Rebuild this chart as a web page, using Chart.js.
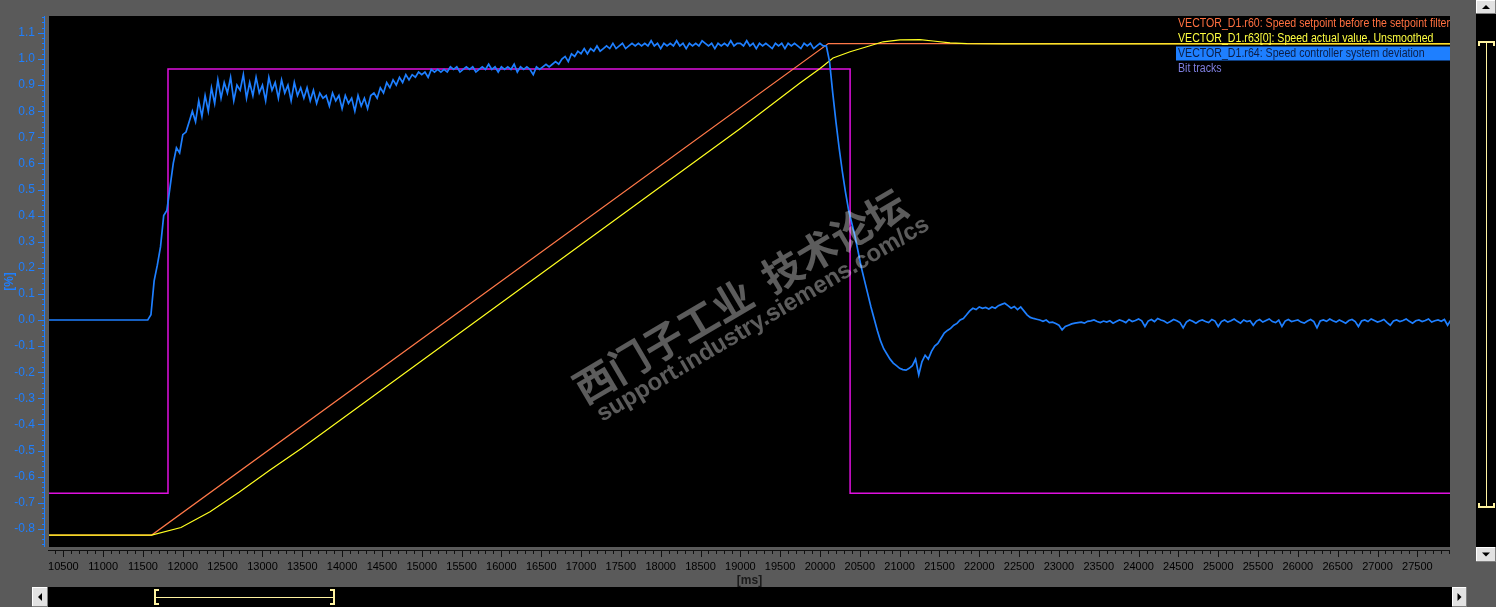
<!DOCTYPE html>
<html>
<head>
<meta charset="utf-8">
<script src="https://cdn.jsdelivr.net/npm/chart.js@4.4.0/dist/chart.umd.min.js"></script>
<style>
  html, body { margin: 0; padding: 0; background: #5a5a5a; overflow: hidden; }
  canvas { display: block; }
</style>
</head>
<body>
<canvas id="trace" width="1496" height="607"></canvas>
<script>
// visible window of the trace
const timeMin = 10320, timeMax = 27910;   // [ms]
const valueMin = -0.8697, valueMax = 1.1648;

const timeTicks = [10500, 11000, 11500, 12000, 12500, 13000, 13500, 14000, 14500, 15000, 15500, 16000,
                   16500, 17000, 17500, 18000, 18500, 19000, 19500, 20000, 20500, 21000, 21500, 22000,
                   22500, 23000, 23500, 24000, 24500, 25000, 25500, 26000, 26500, 27000, 27500];
const valueTicks = [-0.8, -0.7, -0.6, -0.5, -0.4, -0.3, -0.2, -0.1, 0.0, 0.1, 0.2, 0.3, 0.4, 0.5,
                    0.6, 0.7, 0.8, 0.9, 1.0, 1.1];

const traceNames = [
  'VECTOR_D1.r60: Speed setpoint before the setpoint filter',
  'VECTOR_D1.r63[0]: Speed actual value, Unsmoothed',
  'VECTOR_D1.r64: Speed controller system deviation',
  'Bit tracks'
];

// r60 speed setpoint (ramp)
const setpointTimes  = [10320, 11609, 20105, 27910];
const setpointValues = [-0.824, -0.824, 1.059, 1.059];

// r63[0] actual speed
const actualTimes  = [10320, 11609, 11977, 12342, 12706, 13095, 13497, 18996, 19749, 20001, 20164,
                      20378, 20587, 20792, 21005, 21256, 21420, 21633, 21846, 22300, 27910];
const actualValues = [-0.824, -0.824, -0.795, -0.735, -0.66, -0.575, -0.49, 0.733, 0.908, 0.964, 1.004,
                      1.028, 1.047, 1.066, 1.073, 1.074, 1.069, 1.062, 1.059, 1.058, 1.058];

// bit track
const bitTimes  = [10320, 11814, 20378, 27910];
const bitValues = [-0.664, 0.962, -0.664, -0.664];

// r64 system deviation, sampled every 40 ms from 10320 ms
const devStart = 10320, devStep = 40;
const devValues = [
  0,0,0,0,0,0,0,0,0,0, 0,0,0,0,0,0,0,0,0,0, 0,0,0,0,0,0,0,0,0,0, 0,0,
  0.02, 0.15, 0.21, 0.28, 0.40, 0.42, 0.51, 0.60, 0.66, 0.64,
  0.71, 0.72, 0.76, 0.80, 0.76, 0.84, 0.78, 0.86, 0.80, 0.89,
  0.83, 0.92, 0.85, 0.91, 0.87, 0.93, 0.84, 0.90, 0.88, 0.94,
  0.85, 0.91, 0.86, 0.93, 0.87, 0.90, 0.84, 0.93, 0.88, 0.91,
  0.85, 0.92, 0.87, 0.90, 0.84, 0.91, 0.86, 0.89, 0.85, 0.89,
  0.84, 0.88, 0.83, 0.87, 0.85, 0.86, 0.82, 0.87, 0.84, 0.86,
  0.81, 0.86, 0.83, 0.85, 0.80, 0.86, 0.82, 0.85, 0.81, 0.86,
  0.87, 0.85, 0.89, 0.87, 0.91, 0.89, 0.92, 0.90, 0.93, 0.91,
  0.94, 0.92, 0.94, 0.93, 0.95, 0.94, 0.95, 0.93, 0.96, 0.95,
  0.96, 0.95, 0.96, 0.95, 0.97, 0.96, 0.97, 0.95, 0.96, 0.97,
  0.96, 0.97, 0.95, 0.96, 0.97, 0.96, 0.98, 0.96, 0.97, 0.95,
  0.97, 0.96, 0.97, 0.96, 0.98, 0.95, 0.97, 0.96, 0.97, 0.96,
  0.94, 0.97, 0.96, 0.97, 0.98, 0.97, 0.98, 0.99, 0.98, 1.00,
  1.01, 0.99, 1.02, 1.01, 1.03, 1.02, 1.04, 1.02, 1.04, 1.03,
  1.05, 1.03, 1.04, 1.05, 1.04, 1.06, 1.04, 1.05, 1.06, 1.04,
  1.05, 1.06, 1.05, 1.06, 1.05, 1.06, 1.05, 1.07, 1.05, 1.06,
  1.04, 1.06, 1.05, 1.06, 1.05, 1.07, 1.05, 1.06, 1.04, 1.06,
  1.05, 1.06, 1.05, 1.07, 1.06, 1.05, 1.06, 1.04, 1.06, 1.05,
  1.06, 1.05, 1.07, 1.05, 1.06, 1.06, 1.05, 1.07, 1.05, 1.06,
  1.04, 1.06, 1.05, 1.06, 1.05, 1.04, 1.06, 1.05, 1.06, 1.04,
  1.06, 1.05, 1.06, 1.05, 1.04, 1.06, 1.05, 1.06, 1.04, 1.05,
  1.06, 1.05, 1.05, 0.99, 0.87, 0.76, 0.66, 0.57, 0.49, 0.42,
  0.37, 0.32, 0.26, 0.20, 0.15, 0.10, 0.05, 0.005, -0.04, -0.08,
  -0.11, -0.13, -0.15, -0.165, -0.175, -0.185, -0.19, -0.192, -0.185, -0.175,
  -0.15, -0.21, -0.16, -0.135, -0.15, -0.12, -0.10, -0.09, -0.07, -0.05,
  -0.04, -0.032, -0.02, -0.013, 0.0, 0.006, 0.02, 0.035, 0.045, 0.04,
  0.05, 0.045, 0.048, 0.042, 0.05, 0.045, 0.055, 0.06, 0.064, 0.055,
  0.045, 0.052, 0.04, 0.05, 0.035, 0.02, 0.01, 0.006, 0.003, 0.0,
  -0.005, 0.0, -0.01, -0.008, -0.013, -0.02, -0.038, -0.025, -0.02, -0.015,
  -0.012, -0.01, -0.008, -0.012, -0.005, -0.003, 0.0, -0.006, -0.01, -0.004,
  -0.008, -0.003, -0.012, -0.006, 0.0, -0.004, -0.01, 0.002, -0.006, -0.002,
  0.004, -0.003, -0.025, -0.004, 0.002, -0.006, 0.006, 0.0, -0.004, -0.012,
  -0.006, 0.002, -0.003, -0.01, -0.03, -0.008, 0.0, -0.005, -0.012, -0.004,
  0.0, -0.006, -0.01, 0.002, -0.004, -0.025, -0.006, 0.0, -0.008, -0.003,
  0.004, -0.005, -0.012, 0.0, -0.006, -0.003, -0.02, -0.004, 0.002, -0.008,
  -0.002, 0.004, -0.006, -0.01, 0.0, -0.025, -0.004, 0.002, -0.006, -0.003,
  0.0, -0.008, -0.012, -0.004, 0.002, -0.006, -0.03, -0.004, 0.0, -0.005,
  0.004, -0.003, -0.008, 0.0, -0.006, -0.012, -0.002, 0.002, -0.006, -0.025,
  -0.004, 0.0, -0.006, 0.004, -0.002, -0.008, -0.004, 0.002, -0.01, -0.02,
  -0.004, 0.0, -0.006, -0.002, 0.004, -0.005, -0.012, -0.003, 0.0, -0.006,
  -0.002, 0.004, -0.008, -0.003, 0.0, -0.005, 0.002, -0.02, 0.0, 0.004
];

const uiFont = '"Liberation Sans", Arial, sans-serif';

const toPoints = (ts, vs) => ts.map((t, i) => ({ x: t, y: vs[i] }));
const devPoints = devValues.map((v, i) => ({ x: devStart + i * devStep, y: v }));

const traceColors = ['#ff7848', '#ffff20', '#1e7fff', '#e010e0'];

// draws background, tick marks, legend, scroll bars, axis titles, watermark
const traceFrame = {
  id: 'traceFrame',
  beforeDraw(chart) {
    const { ctx, chartArea: a } = chart;
    ctx.save();
    ctx.fillStyle = '#5a5a5a';
    ctx.fillRect(0, 0, chart.width, chart.height);
    ctx.fillStyle = '#000';
    ctx.fillRect(a.left, a.top, a.right - a.left, a.bottom - a.top);
    ctx.restore();
  },
  afterDraw(chart) {
    const { ctx, chartArea: a, scales } = chart;
    const xs = scales.x, ys = scales.y;
    ctx.save();

    // y axis line + ticks (minor every 0.02)
    ctx.strokeStyle = '#1e7fff';
    ctx.lineWidth = 1;
    ctx.beginPath();
    ctx.moveTo(44.5, a.top); ctx.lineTo(44.5, a.bottom);
    for (let k = -43; k <= 58; k++) {
      const v = k * 0.02;
      if (v < valueMin || v > valueMax) continue;
      const py = Math.round(ys.getPixelForValue(v)) + 0.5;
      const major = k % 5 === 0;
      ctx.moveTo(major ? 38 : 42, py); ctx.lineTo(45, py);
    }
    ctx.stroke();

    // x axis line + ticks (minor every 100 ms)
    ctx.strokeStyle = '#101010';
    ctx.beginPath();
    ctx.moveTo(a.left - 1, 550.5); ctx.lineTo(a.right, 550.5);
    for (let t = 10400; t <= timeMax; t += 100) {
      const px = Math.round(xs.getPixelForValue(t)) + 0.5;
      const major = t % 500 === 0;
      ctx.moveTo(px, 550); ctx.lineTo(px, major ? 557 : 554);
    }
    ctx.stroke();

    // axis titles
    ctx.fillStyle = '#1e7fff';
    ctx.font = 'bold 12px ' + uiFont;
    ctx.textAlign = 'center';
    ctx.textBaseline = 'middle';
    ctx.save();
    ctx.translate(10, (a.top + a.bottom) / 2);
    ctx.rotate(-Math.PI / 2);
    ctx.fillText('[%]', 0, 0);
    ctx.restore();
    ctx.fillStyle = '#1a1a1a';
    ctx.fillText('[ms]', (a.left + a.right) / 2, 581);

    // legend (narrowed text like the original pixel font)
    ctx.save();
    ctx.beginPath();
    ctx.rect(a.left, a.top, a.right - a.left, a.bottom - a.top);
    ctx.clip();
    ctx.fillStyle = '#1e7fff';
    ctx.fillRect(1176, 46.5, a.right - 1176, 14);
    ctx.font = '12px ' + uiFont;
    ctx.textAlign = 'left';
    ctx.textBaseline = 'alphabetic';
    const sx = 272 / ctx.measureText(traceNames[0]).width;
    ctx.translate(1178, 0);
    ctx.scale(sx, 1);
    const legendColors = ['#ff7040', '#ffff40', '#0b1d45', '#7f7fdf'];
    traceNames.forEach((name, i) => {
      ctx.fillStyle = legendColors[i];
      ctx.fillText(name, 0, 26.5 + i * 15);
    });
    ctx.restore();

    // scroll bars
    const button = (x, y, w, h, dir) => {
      ctx.fillStyle = '#e2e2e2';
      ctx.fillRect(x, y, w, h);
      ctx.fillStyle = '#ffffff';
      ctx.fillRect(x, y, w, 1); ctx.fillRect(x, y, 1, h);
      ctx.fillStyle = '#808080';
      ctx.fillRect(x, y + h - 1, w, 1); ctx.fillRect(x + w - 1, y, 1, h);
      const cx = x + w / 2, cy = y + h / 2;
      ctx.fillStyle = '#000';
      ctx.beginPath();
      if (dir === 'up') { ctx.moveTo(cx - 4, cy + 2); ctx.lineTo(cx + 4, cy + 2); ctx.lineTo(cx, cy - 2); }
      if (dir === 'down') { ctx.moveTo(cx - 4, cy - 2); ctx.lineTo(cx + 4, cy - 2); ctx.lineTo(cx, cy + 2); }
      if (dir === 'left') { ctx.moveTo(cx + 2, cy - 4); ctx.lineTo(cx + 2, cy + 4); ctx.lineTo(cx - 2, cy); }
      if (dir === 'right') { ctx.moveTo(cx - 2, cy - 4); ctx.lineTo(cx - 2, cy + 4); ctx.lineTo(cx + 2, cy); }
      ctx.closePath();
      ctx.fill();
    };
    ctx.fillStyle = '#000';
    ctx.fillRect(1476, 14, 20, 533);
    ctx.fillRect(48, 587, 1404, 20);
    button(1476, 0, 20, 14, 'up');
    button(1476, 547, 20, 15, 'down');
    button(32, 587, 16, 20, 'left');
    button(1452, 587, 15, 20, 'right');

    ctx.strokeStyle = '#fff3a0';
    ctx.lineWidth = 2;
    ctx.beginPath();
    ctx.moveTo(1479, 46); ctx.lineTo(1479, 42); ctx.lineTo(1494, 42); ctx.lineTo(1494, 46);
    ctx.moveTo(1479, 503); ctx.lineTo(1479, 507); ctx.lineTo(1494, 507); ctx.lineTo(1494, 503);
    ctx.moveTo(159, 590); ctx.lineTo(155, 590); ctx.lineTo(155, 604); ctx.lineTo(159, 604);
    ctx.moveTo(330, 590); ctx.lineTo(334, 590); ctx.lineTo(334, 604); ctx.lineTo(330, 604);
    ctx.stroke();
    ctx.lineWidth = 1;
    ctx.beginPath();
    ctx.moveTo(1486.5, 42); ctx.lineTo(1486.5, 507);
    ctx.moveTo(155, 597.5); ctx.lineTo(334, 597.5);
    ctx.stroke();

    // watermark
    ctx.translate(740, 296);
    ctx.rotate(-30.5 * Math.PI / 180);
    ctx.fillStyle = 'rgba(255,255,255,0.36)';
    ctx.textAlign = 'center';
    ctx.textBaseline = 'middle';
    ctx.font = 'bold 40px "Noto Sans CJK SC", sans-serif';
    ctx.fillText('西门子工业  技术论坛', 0, 0);
    ctx.font = 'bold 24px ' + uiFont;
    ctx.fillText('support.industry.siemens.com/cs', 8, 32);
    ctx.restore();
  }
};

new Chart(document.getElementById('trace'), {
  type: 'line',
  data: {
    datasets: [
      { label: traceNames[2], data: devPoints, borderColor: traceColors[2], borderWidth: 1.7, order: 0 },
      { label: traceNames[1], data: toPoints(actualTimes, actualValues), borderColor: traceColors[1], borderWidth: 1.2, order: 1 },
      { label: traceNames[0], data: toPoints(setpointTimes, setpointValues), borderColor: traceColors[0], borderWidth: 1.2, order: 2 },
      { label: traceNames[3], data: toPoints(bitTimes, bitValues), borderColor: traceColors[3], borderWidth: 1.5, stepped: true, order: 3 }
    ]
  },
  options: {
    responsive: false,
    animation: false,
    devicePixelRatio: 1,
    layout: { padding: { top: 16, right: 46, bottom: 0, left: 0 } },
    elements: { point: { radius: 0 }, line: { tension: 0, fill: false } },
    plugins: { legend: { display: false }, tooltip: { enabled: false }, title: { display: false } },
    scales: {
      x: {
        type: 'linear', min: timeMin, max: timeMax,
        afterBuildTicks(s) { s.ticks = timeTicks.map(v => ({ value: v })); },
        afterFit(s) { s.height = 60; s.paddingLeft = 0; s.paddingRight = 0; },
        grid: { display: false, drawTicks: false, tickLength: 0 },
        border: { display: false },
        ticks: {
          autoSkip: false, maxRotation: 0, minRotation: 0,
          color: '#000', padding: 13, font: { family: uiFont, size: 11 },
          callback: v => String(v)
        }
      },
      y: {
        type: 'linear', min: valueMin, max: valueMax,
        afterBuildTicks(s) { s.ticks = valueTicks.map(v => ({ value: v })); },
        afterFit(s) { s.width = 49; s.paddingTop = 0; s.paddingBottom = 0; },
        grid: { display: false, drawTicks: false, tickLength: 0 },
        border: { display: false },
        ticks: {
          autoSkip: false,
          color: '#1e7fff', padding: 14, font: { family: uiFont, size: 12 },
          callback: v => (Math.abs(v) < 1e-9 ? 0 : v).toFixed(1)
        }
      }
    }
  },
  plugins: [traceFrame]
});
</script>
</body>
</html>
